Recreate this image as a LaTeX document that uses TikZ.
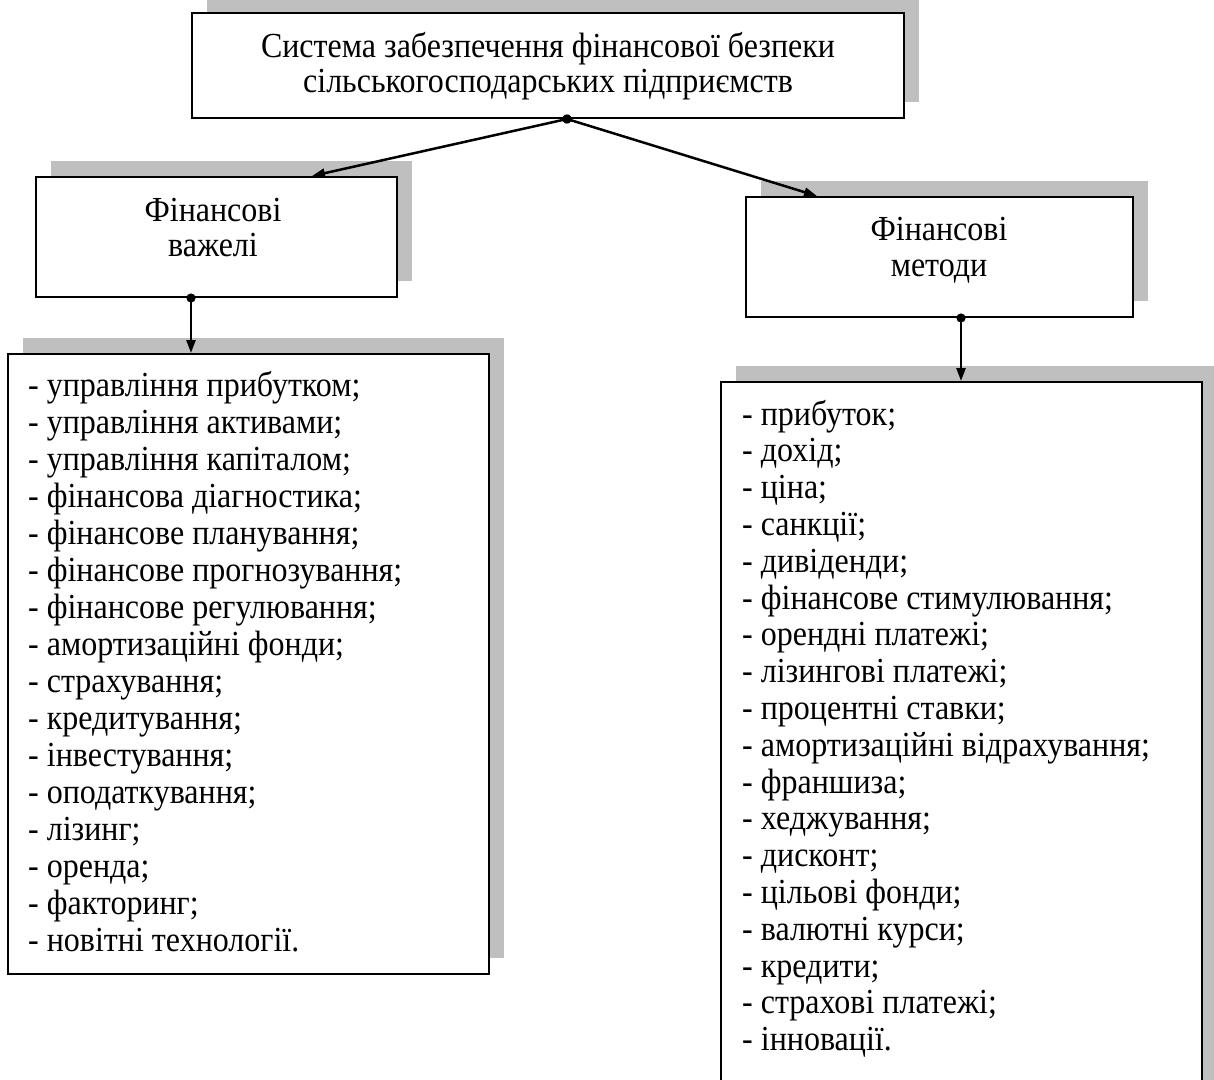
\documentclass[tikz,border=0pt]{standalone}
\usepackage{fontspec}
\setmainfont{Liberation Serif}
\usetikzlibrary{arrows.meta,shadows,calc}

% Times-like text, set slightly taller than wide
\newcommand{\tallText}[1]{\scalebox{1}[1.1]{#1}}

\begin{document}
\begin{tikzpicture}[x=1pt,y=-1pt,
  box/.style={rectangle, draw=black, line width=2pt, fill=white, inner sep=0pt,
    drop shadow={shadow xshift=15pt, shadow yshift=16pt, fill=black!25, opacity=1}},
  lbl/.style={font=\fontsize{32}{37}\selectfont, inner sep=0pt},
  conn/.style={line width=2.5pt, {Circle[length=9pt,sep=-4.5pt]}-{Triangle[length=13pt,width=9pt]}}]

\useasboundingbox (0,0) rectangle (1214,1079);
\fill[white] (0,0) rectangle (1214,1079);

\begin{scope}
\clip (0,0) rectangle (1214,1079);

% boxes
\node[box, minimum width=712pt, minimum height=105pt] (sys) at (548,65.5) {};
\node[box, minimum width=361pt, minimum height=120pt] (lev) at (216.5,237) {};
\node[box, minimum width=387pt, minimum height=120pt] (met) at (939.5,257) {};
\node[box, minimum width=481pt, minimum height=620pt] (levlist) at (248.5,664) {};
\node[box, minimum width=481pt, minimum height=740pt] (metlist) at (961.5,752) {};

% headings
\node[lbl, anchor=base] (sys1) at (548,57) {\tallText{Система забезпечення фінансової безпеки}};
\node[lbl, anchor=base] (sys2) at (548,92) {\tallText{сільськогосподарських підприємств}};
\node[lbl, anchor=base] (lev1) at (213,221) {\tallText{Фінансові}};
\node[lbl, anchor=base] (lev2) at (213,256) {\tallText{важелі}};
\node[lbl, anchor=base] (met1) at (939,240) {\tallText{Фінансові}};
\node[lbl, anchor=base] (met2) at (939,276) {\tallText{методи}};

% list of levers
\foreach \t [count=\i from 0] in {
  - управління прибутком;,
  - управління активами;,
  - управління капіталом;,
  - фінансова діагностика;,
  - фінансове планування;,
  - фінансове прогнозування;,
  - фінансове регулювання;,
  - амортизаційні фонди;,
  - страхування;,
  - кредитування;,
  - інвестування;,
  - оподаткування;,
  - лізинг;,
  - оренда;,
  - факторинг;,
  - новітні технології.}
  \node[lbl, anchor=base west] (A\i) at (28,{396+37*\i}) {\tallText{\t}};

% list of methods
\foreach \t [count=\i from 0] in {
  - прибуток;,
  - дохід;,
  - ціна;,
  - санкції;,
  - дивіденди;,
  - фінансове стимулювання;,
  - орендні платежі;,
  - лізингові платежі;,
  - процентні ставки;,
  - амортизаційні відрахування;,
  - франшиза;,
  - хеджування;,
  - дисконт;,
  - цільові фонди;,
  - валютні курси;,
  - кредити;,
  - страхові платежі;,
  - інновації.}
  \node[lbl, anchor=base west] (B\i) at (742,{425+36.8*\i}) {\tallText{\t}};

% connectors
\draw[conn] ($(sys.south west)+(376,0)$) -- ($(lev.north west)+(277,0)$);
\draw[conn] ($(sys.south west)+(376,0)$) -- ($(met.north west)+(72,0)$);
\draw[conn] ($(lev.south west)+(156,0)$) -- ($(levlist.north west)+(184,0)$);
\draw[conn] ($(met.south west)+(216,0)$) -- ($(metlist.north west)+(241,0)$);
\end{scope}
\end{tikzpicture}
\end{document}
